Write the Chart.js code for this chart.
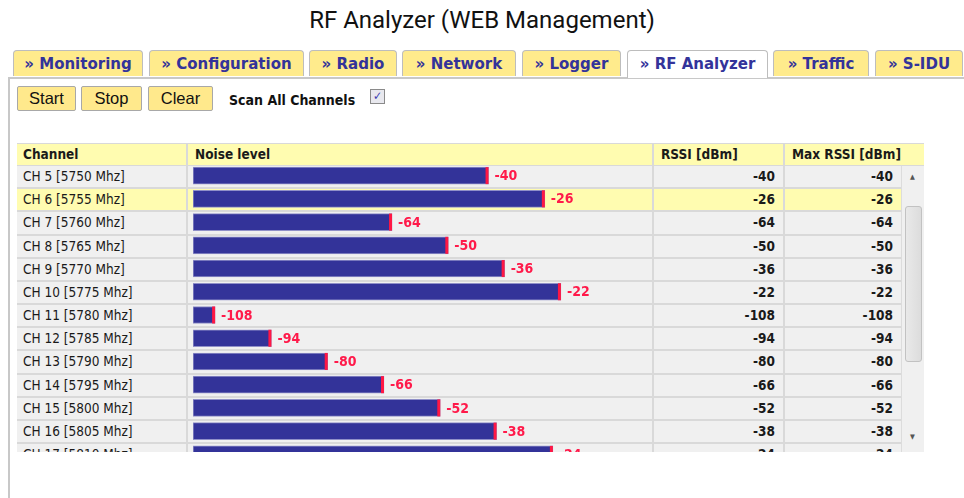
<!DOCTYPE html>
<html lang="en">
<head>
    <meta charset="UTF-8">
    <title>RF Analyzer (WEB Management)</title>
    <script src="https://cdn.jsdelivr.net/npm/chart.js"></script>
    <style>
        body { margin: 0; width: 964px; height: 498px; background: #fff; position: relative; overflow: hidden; font-family: "DejaVu Sans Condensed", "DejaVu Sans", sans-serif; }
        .abs { position: absolute; }
        #title { left: 0; width: 964px; top: 6px; text-align: center; font-family: Roboto, sans-serif; font-size: 24px; color: #111; }
        .tab { position: absolute; top: 50px; height: 26px; background: #ffeb8c; border: 1px solid #bdbdbd; border-bottom: none; border-radius: 4px 4px 0 0; box-sizing: border-box;
               font-family: "DejaVu Sans", sans-serif; font-weight: bold; font-size: 15px; color: #33339a; text-align: center; line-height: 27px; }
        .tab.active { background: #fff; height: 28px; }
        #content { left: 8px; top: 77px; width: 970px; height: 440px; border-left: 2px solid #c8c8c8; border-top: 2px solid #c8c8c8; box-sizing: border-box; }
        .btn { position: absolute; top: 86px; height: 25px; background: #ffe98c; border: 1px solid #a8a8a8; box-sizing: border-box; border-radius: 2px;
               font-family: "Liberation Sans", Arial, sans-serif; font-size: 16.5px; text-align: center; line-height: 23px; color: #111; }
        #scan { left: 229px; top: 92px; font-weight: bold; font-size: 14px; color: #111; }
        #chk { left: 370px; top: 89px; width: 15px; height: 15px; border: 1px solid #8a8a8a; background: #e8e8ee; box-sizing: border-box; color: #3a3ab0; font-size: 12px; line-height: 13px; text-align: center; }
        #table { left: 17px; top: 143px; width: 907px; height: 309px; overflow: hidden; background: #f0f0f0; }
        .cell { position: absolute; box-sizing: border-box; font-size: 13.5px; color: #1a1a1a; white-space: nowrap; }
        .hdr { font-weight: bold; background: #fffcb0; }
        .num { font-weight: bold; text-align: right; }
        #bars { position: absolute; left: 176px; top: 21px; }
        #scroll { left: 884px; top: 23px; width: 23px; height: 290px; background: #f0f0f0; border-left: 1px solid #dcdcdc; }
        #thumb { left: 3px; top: 40px; width: 17px; height: 156px; background: linear-gradient(90deg, #e9e9e9, #dcdcdc); border: 1px solid #c2c2c2; border-radius: 3px; box-sizing: border-box; }
    </style>
</head>
<body>
    <div id="title" class="abs">RF Analyzer (WEB Management)</div>
    <div id="content" class="abs"></div>
    <div id="tabs"></div>
    <div id="buttons"></div>
    <div id="scan" class="abs">Scan All Channels</div>
    <div id="chk" class="abs">✓</div>

    <div id="table" class="abs">
        <canvas id="bars" width="460" height="302"></canvas>
    </div>

    <script>
        // Page data
        const tabNames = ['» Monitoring', '» Configuration', '» Radio', '» Network', '» Logger', '» RF Analyzer', '» Traffic', '» S-IDU'];
        const activeTab = '» RF Analyzer';
        const buttonNames = ['Start', 'Stop', 'Clear'];
        const headers = ['Channel', 'Noise level', 'RSSI [dBm]', 'Max RSSI [dBm]'];
        const channels = ['CH 5 [5750 Mhz]', 'CH 6 [5755 Mhz]', 'CH 7 [5760 Mhz]', 'CH 8 [5765 Mhz]', 'CH 9 [5770 Mhz]',
                          'CH 10 [5775 Mhz]', 'CH 11 [5780 Mhz]', 'CH 12 [5785 Mhz]', 'CH 13 [5790 Mhz]', 'CH 14 [5795 Mhz]',
                          'CH 15 [5800 Mhz]', 'CH 16 [5805 Mhz]', 'CH 17 [5810 Mhz]'];
        const noiseLevel = [-40, -26, -64, -50, -36, -22, -108, -94, -80, -66, -52, -38, -24];
        const rssi = [-40, -26, -64, -50, -36, -22, -108, -94, -80, -66, -52, -38, -24];
        const maxRssi = [-40, -26, -64, -50, -36, -22, -108, -94, -80, -66, -52, -38, -24];
        const selectedRow = 1;

        // Tabs and buttons
        const tabPos = [[13, 130], [149, 155], [309, 88], [402, 114], [522, 99], [627, 141], [773, 96], [875, 88]];
        const tabsEl = document.getElementById('tabs');
        tabNames.forEach((t, i) => {
            const d = document.createElement('div');
            d.className = 'tab' + (t === activeTab ? ' active' : '');
            d.style.left = tabPos[i][0] + 'px';
            d.style.width = tabPos[i][1] + 'px';
            d.textContent = t;
            tabsEl.appendChild(d);
        });
        const btnPos = [[17, 59], [81, 61], [148, 65]];
        const btnEl = document.getElementById('buttons');
        buttonNames.forEach((b, i) => {
            const d = document.createElement('div');
            d.className = 'btn';
            d.style.left = btnPos[i][0] + 'px';
            d.style.width = btnPos[i][1] + 'px';
            d.textContent = b;
            btnEl.appendChild(d);
        });

        // Table cells (coordinates relative to #table)
        const table = document.getElementById('table');
        const colX = [0, 170, 636, 767, 884];
        const rowH = 23.18;
        const top0 = 23;

        function cell(x, y, w, h, cls, text, pad, bg) {
            const d = document.createElement('div');
            d.className = 'cell ' + cls;
            d.style.left = x + 'px'; d.style.top = y + 'px';
            d.style.width = w + 'px'; d.style.height = h + 'px';
            d.style.lineHeight = h + 'px';
            if (pad.l) d.style.paddingLeft = pad.l + 'px';
            if (pad.r) d.style.paddingRight = pad.r + 'px';
            if (bg) d.style.background = bg;
            d.textContent = text;
            table.insertBefore(d, document.getElementById('bars'));
        }

        // header
        cell(0, 0, 907, top0, 'hdr', '', {}, null);
        headers.forEach((h, i) => {
            const x = colX[i], w = (i === 3 ? 907 : colX[i + 1]) - x;
            cell(x, 0, w, top0 - 1, 'hdr', h, { l: i === 0 ? 6 : 8 }, null);
        });
        // rows
        channels.forEach((c, i) => {
            const y = top0 + i * rowH;
            const bg = i === selectedRow ? '#fffcb0' : '#f0f0f0';
            cell(0, y, 884, rowH, '', '', {}, bg);
            cell(0, y, colX[1] - 2, rowH - 2, '', c, { l: 6 }, bg);
            cell(colX[2], y, colX[3] - colX[2] - 2, rowH - 2, 'num', String(rssi[i]), { r: 7 }, bg);
            cell(colX[3], y, colX[4] - colX[3], rowH - 2, 'num', String(maxRssi[i]), { r: 8 }, bg);
        });
        // grid lines
        channels.forEach((c, i) => {
            const y = top0 + (i + 1) * rowH - 2;
            const d = document.createElement('div');
            d.className = 'cell';
            d.style.cssText = `left:0;top:${y}px;width:884px;height:2px;background:#d9d9d9`;
            table.appendChild(d);
        });
        [colX[1], colX[2], colX[3]].forEach(x => {
            const d = document.createElement('div');
            d.className = 'cell';
            d.style.cssText = `left:${x - 1}px;top:0;width:2px;height:309px;background:#d9d9d9`;
            table.appendChild(d);
        });
        const topLine = document.createElement('div');
        topLine.className = 'cell';
        topLine.style.cssText = 'left:0;top:0;width:907px;height:1px;background:#d9d9d9';
        table.appendChild(topLine);
        const hdrLine = document.createElement('div');
        hdrLine.className = 'cell';
        hdrLine.style.cssText = `left:0;top:${top0 - 1}px;width:907px;height:1px;background:#d9d9d9`;
        table.appendChild(hdrLine);

        // scrollbar
        const sb = document.createElement('div');
        sb.id = 'scroll'; sb.className = 'cell';
        sb.innerHTML = '<div id="thumb" class="cell"></div>' +
            '<div class="cell" style="left:8px;top:7px;font-size:7px;color:#555">▲</div>' +
            '<div class="cell" style="left:8px;top:267px;font-size:7px;color:#555">▼</div>';
        table.appendChild(sb);

        // Noise level bars
        const scaleMin = -113.5;
        const scaleMax = 0.9;
        const endMarker = {
            id: 'endMarker',
            afterDatasetsDraw(chart) {
                const ctx = chart.ctx;
                const meta = chart.getDatasetMeta(0);
                ctx.save();
                ctx.font = 'bold 14px "DejaVu Sans Condensed", "DejaVu Sans", sans-serif';
                ctx.textBaseline = 'middle';
                meta.data.forEach((bar, i) => {
                    ctx.fillStyle = '#ff1744';
                    ctx.fillRect(bar.x - 3, bar.y - bar.height / 2, 3, bar.height);
                    ctx.fillStyle = '#ff1a4a';
                    ctx.fillText(String(noiseLevel[i]), bar.x + 6, bar.y + 1);
                });
                ctx.restore();
            }
        };

        new Chart(document.getElementById('bars').getContext('2d'), {
            type: 'bar',
            data: {
                labels: channels,
                datasets: [{
                    data: noiseLevel,
                    base: scaleMin,
                    backgroundColor: '#333399',
                    borderColor: '#9090c8',
                    borderWidth: 1,
                    borderSkipped: false,
                    barThickness: 17
                }]
            },
            options: {
                indexAxis: 'y',
                responsive: false,
                animation: false,
                layout: { padding: 0 },
                plugins: { legend: { display: false }, tooltip: { enabled: false } },
                scales: {
                    x: { display: false, min: scaleMin, max: scaleMax },
                    y: { display: false }
                }
            },
            plugins: [endMarker]
        });
    </script>
</body>
</html>
